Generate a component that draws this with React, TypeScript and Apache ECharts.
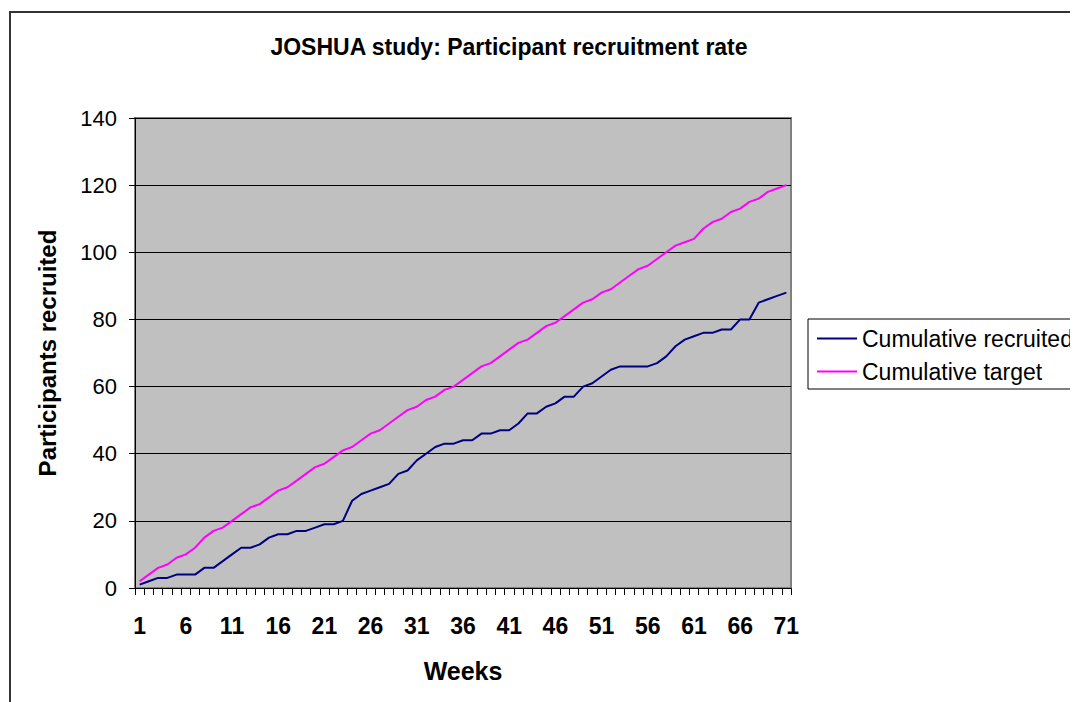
import React, { useEffect, useRef } from "react";
import * as echarts from "echarts";

const weeks = [
  "1","2","3","4","5","6","7","8","9","10","11","12","13","14","15","16","17","18","19","20",
  "21","22","23","24","25","26","27","28","29","30","31","32","33","34","35","36","37","38","39","40",
  "41","42","43","44","45","46","47","48","49","50","51","52","53","54","55","56","57","58","59","60",
  "61","62","63","64","65","66","67","68","69","70","71",
];

const cumulativeRecruited = [
  1, 2, 3, 3, 4, 4, 4, 6, 6, 8,
  10, 12, 12, 13, 15, 16, 16, 17, 17, 18,
  19, 19, 20, 26, 28, 29, 30, 31, 34, 35,
  38, 40, 42, 43, 43, 44, 44, 46, 46, 47,
  47, 49, 52, 52, 54, 55, 57, 57, 60, 61,
  63, 65, 66, 66, 66, 66, 67, 69, 72, 74,
  75, 76, 76, 77, 77, 80, 80, 85, 86, 87, 88,
];

const cumulativeTarget = [
  2, 4, 6, 7, 9, 10, 12, 15, 17, 18,
  20, 22, 24, 25, 27, 29, 30, 32, 34, 36,
  37, 39, 41, 42, 44, 46, 47, 49, 51, 53,
  54, 56, 57, 59, 60, 62, 64, 66, 67, 69,
  71, 73, 74, 76, 78, 79, 81, 83, 85, 86,
  88, 89, 91, 93, 95, 96, 98, 100, 102, 103,
  104, 107, 109, 110, 112, 113, 115, 116, 118, 119, 120,
];

const seriesNames = ["Cumulative recruited", "Cumulative target"];
const titleText = "JOSHUA study: Participant recruitment rate";
const FONT = 'Arial, "Liberation Sans", sans-serif';

export default function App() {
  const ref = useRef<HTMLDivElement>(null);
  useEffect(() => {
    if (!ref.current) return;
    const chart = echarts.init(ref.current, null, { renderer: "svg" });
    chart.setOption({
      animation: false,
      backgroundColor: "#ffffff",
      textStyle: { fontFamily: FONT },
      graphic: [
        {
          type: "rect",
          shape: { x: 2, y: 4, width: 2000, height: 2000 },
          style: { fill: "none", stroke: "#333333", lineWidth: 2 },
          silent: true,
        },
        {
          type: "text",
          x: 501,
          y: 39,
          style: {
            text: titleText,
            fontSize: 23,
            fontWeight: "bold",
            fontFamily: FONT,
            fill: "#000000",
            align: "center",
            verticalAlign: "middle",
          },
        },
      ],
      legend: {
        orient: "vertical",
        left: 800,
        top: 311,
        data: seriesNames,
        icon: "rect",
        itemWidth: 40,
        itemHeight: 2,
        itemGap: 10,
        padding: [8, 8, 6, 9],
        borderColor: "#000000",
        borderWidth: 1,
        textStyle: { fontSize: 23, color: "#000000", fontFamily: FONT },
      },
      grid: {
        left: 127,
        top: 110,
        width: 656,
        height: 470,
        show: true,
        backgroundColor: "#C0C0C0",
        borderColor: "#808080",
        borderWidth: 2,
      },
      xAxis: {
        type: "category",
        data: weeks,
        boundaryGap: true,
        name: "Weeks",
        nameLocation: "middle",
        nameGap: 70,
        nameTextStyle: { fontSize: 25, fontWeight: "bold", color: "#000000", fontFamily: FONT },
        axisLine: { show: true, lineStyle: { color: "#000000", width: 1 } },
        axisTick: { show: true, interval: 0, length: 7, lineStyle: { color: "#000000" } },
        axisLabel: { interval: 4, fontSize: 23, fontWeight: "bold", color: "#000000", margin: 26, fontFamily: FONT },
        splitLine: { show: false },
      },
      yAxis: {
        type: "value",
        min: 0,
        max: 140,
        interval: 20,
        name: "Participants recruited",
        nameLocation: "middle",
        nameRotate: 90,
        nameGap: 76,
        nameTextStyle: { fontSize: 24, fontWeight: "bold", color: "#000000", fontFamily: FONT },
        axisLine: { show: true, lineStyle: { color: "#000000", width: 1 } },
        axisTick: { show: true, length: 6, lineStyle: { color: "#000000" } },
        axisLabel: { fontSize: 22, color: "#000000", margin: 18, fontFamily: FONT },
        splitLine: { show: true, lineStyle: { color: "#000000", width: 1 } },
      },
      series: [
        {
          name: seriesNames[0],
          type: "line",
          data: cumulativeRecruited,
          symbol: "none",
          lineStyle: { color: "#000080", width: 2 },
          itemStyle: { color: "#000080" },
        },
        {
          name: seriesNames[1],
          type: "line",
          data: cumulativeTarget,
          symbol: "none",
          lineStyle: { color: "#FF00FF", width: 2 },
          itemStyle: { color: "#FF00FF" },
        },
      ],
    });
    return () => chart.dispose();
  }, []);
  return <div ref={ref} style={{ width: 1070, height: 694 }} />;
}
